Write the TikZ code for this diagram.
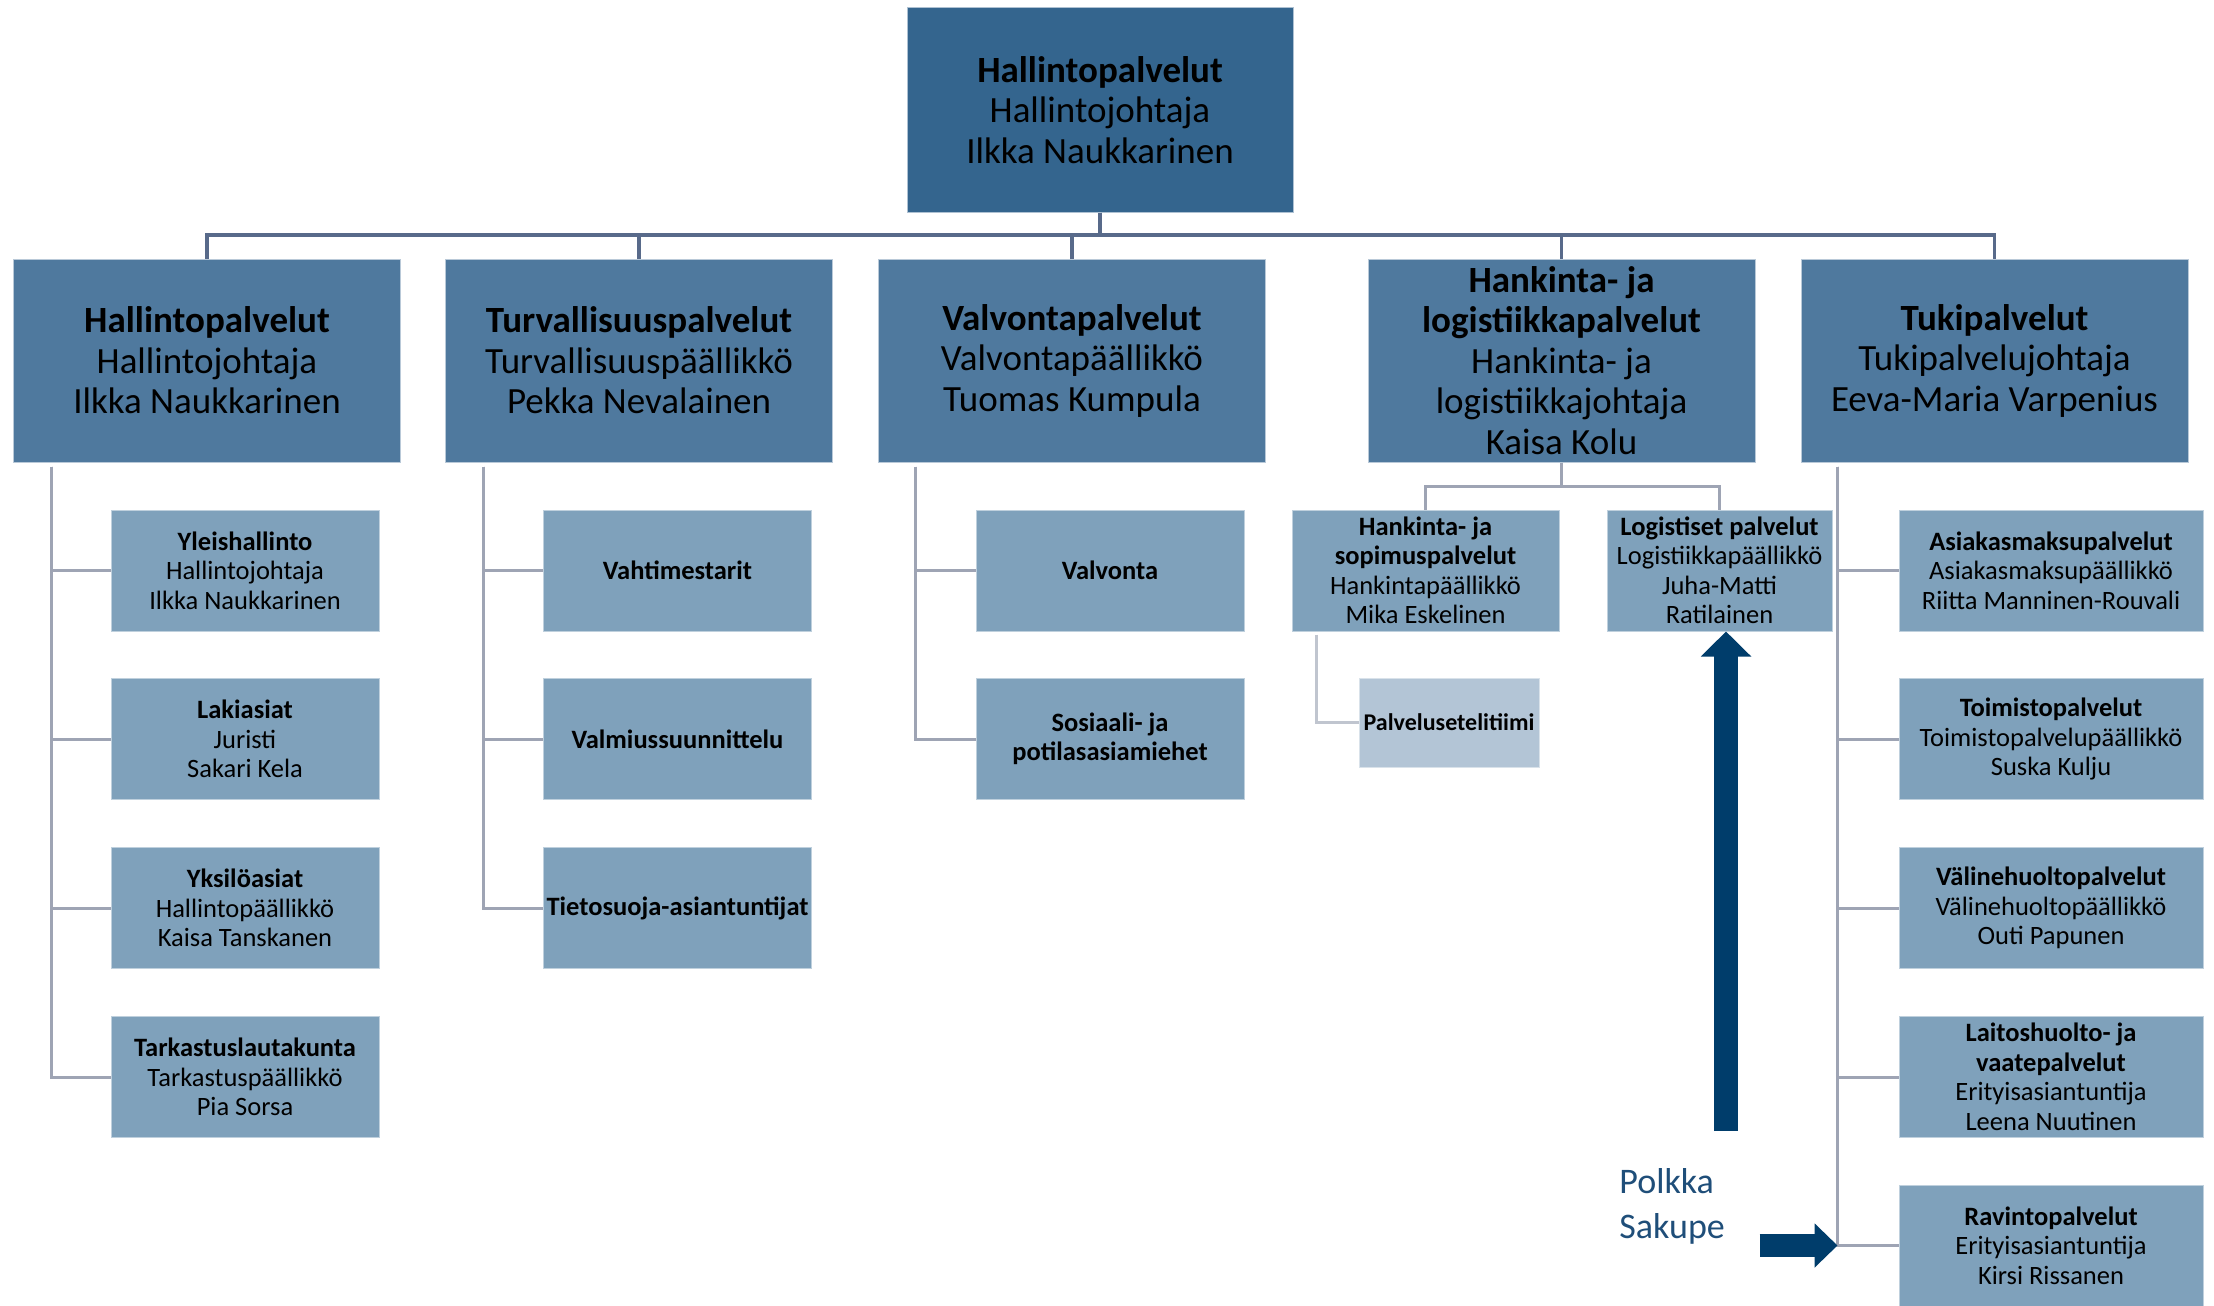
\documentclass[tikz,border=0pt]{standalone}
\usepackage{fontspec}
\setmainfont{Carlito}
\usetikzlibrary{arrows.meta,calc}

\definecolor{topblue}{RGB}{52,101,142}
\definecolor{unitblue}{RGB}{79,121,158}
\definecolor{teamblue}{RGB}{127,161,187}
\definecolor{paleblue}{RGB}{179,197,214}
\definecolor{busgray}{RGB}{88,106,138}
\definecolor{linegray}{RGB}{158,164,180}
\definecolor{palegray}{RGB}{192,197,207}
\definecolor{navy}{RGB}{0,61,107}
\definecolor{polkkablue}{RGB}{31,78,121}

\begin{document}
\begin{tikzpicture}[x=0.5pt,y=-0.5pt]
	\tikzstyle{topbox} = [rectangle, fill=topblue, draw=white!60!topblue, line width=0.5pt, inner sep=0pt, align=center, minimum width=193pt, minimum height=102.5pt, font=\fontsize{18.5}{20.25}\selectfont];
	\tikzstyle{unitbox} = [topbox, fill=unitblue, draw=white!60!unitblue, minimum width=193.5pt, minimum height=101.5pt];
	\tikzstyle{teambox} = [rectangle, fill=teamblue, draw=white!50!teamblue, line width=0.5pt, inner sep=0pt, align=center, minimum width=134pt, minimum height=60.5pt, font=\fontsize{13.25}{14.75}\selectfont];
	\tikzstyle{supportbox} = [teambox, minimum width=152pt];
	\tikzstyle{palebox} = [teambox, fill=paleblue, draw=white!50!paleblue, minimum width=90pt, minimum height=44.5pt, font=\fontsize{12}{14}\selectfont];
	\tikzstyle{busline} = [draw=busgray, line width=1.75pt];
	\tikzstyle{subline} = [draw=linegray, line width=1.5pt];
	\tikzstyle{paleline} = [draw=palegray, line width=1.5pt];
	\tikzstyle{uparrow} = [draw=navy, line width=12pt, -{Triangle[length=12.5pt,width=24.5pt]}];
	\tikzstyle{sidearrow} = [draw=navy, line width=11.5pt, -{Triangle[length=11.5pt,width=21.5pt]}];
	\tikzstyle{polkka} = [text=polkkablue, inner sep=0pt, align=left, font=\fontsize{18}{22.5}\selectfont];

	\useasboundingbox (0,0) rectangle (2214,1305);

	\node[topbox] at (1100, 110) (top) {\textbf{Hallintopalvelut}\\Hallintojohtaja\\Ilkka Naukkarinen};

	\node[unitbox] at (207, 360.5) (hal) {\textbf{Hallintopalvelut}\\Hallintojohtaja\\Ilkka Naukkarinen};
	\node[unitbox] at (639, 360.5) (tur) {\textbf{Turvallisuuspalvelut}\\Turvallisuuspäällikkö\\Pekka Nevalainen};
	\node[unitbox] at (1072, 360.5) (val) {\textbf{Valvontapalvelut}\\Valvontapäällikkö\\Tuomas Kumpula};
	\node[unitbox] at (1561.5, 360.5) (han) {\textbf{Hankinta- ja}\\\textbf{logistiikkapalvelut}\\Hankinta- ja\\logistiikkajohtaja\\Kaisa Kolu};
	\node[unitbox] at (1994.5, 360.5) (tuk) {\textbf{Tukipalvelut}\\Tukipalvelujohtaja\\Eeva-Maria Varpenius};

		\node[teambox] at (245, 570.5) (yle) {\textbf{Yleishallinto}\\Hallintojohtaja\\Ilkka Naukkarinen};
		\node[teambox] at (245, 739) (lak) {\textbf{Lakiasiat}\\Juristi\\Sakari Kela};
		\node[teambox] at (245, 908) (yks) {\textbf{Yksilöasiat}\\Hallintopäällikkö\\Kaisa Tanskanen};
		\node[teambox] at (245, 1077) (tar) {\textbf{Tarkastuslautakunta}\\Tarkastuspäällikkö\\Pia Sorsa};

		\node[teambox] at (677.5, 570.5) (vah) {\textbf{Vahtimestarit}};
		\node[teambox] at (677.5, 739) (vmu) {\textbf{Valmiussuunnittelu}};
		\node[teambox] at (677.5, 908) (tie) {\textbf{Tietosuoja-asiantuntijat}};

		\node[teambox] at (1110, 570.5) (vlv) {\textbf{Valvonta}};
		\node[teambox] at (1110, 739) (sos) {\textbf{Sosiaali- ja}\\\textbf{potilasasiamiehet}};

		\node[teambox, minimum width=133.5pt] at (1425.5, 570.5) (hso) {\textbf{Hankinta- ja}\\\textbf{sopimuspalvelut}\\Hankintapäällikkö\\Mika Eskelinen};
		\node[teambox, minimum width=112.5pt] at (1719.5, 570.5) (log) {\textbf{Logistiset palvelut}\\Logistiikkapäällikkö\\Juha-Matti\\Ratilainen};
			\node[palebox] at (1449, 722.5) (pst) {\textbf{Palvelusetelitiimi}};

		\node[supportbox] at (2051, 570.5) (asi) {\textbf{Asiakasmaksupalvelut}\\Asiakasmaksupäällikkö\\Riitta Manninen-Rouvali};
		\node[supportbox] at (2051, 739) (toi) {\textbf{Toimistopalvelut}\\Toimistopalvelupäällikkö\\Suska Kulju};
		\node[supportbox] at (2051, 908) (vhu) {\textbf{Välinehuoltopalvelut}\\Välinehuoltopäällikkö\\Outi Papunen};
		\node[supportbox] at (2051, 1077) (lai) {\textbf{Laitoshuolto- ja}\\\textbf{vaatepalvelut}\\Erityisasiantuntija\\Leena Nuutinen};
		\node[supportbox] at (2051, 1245.5) (rav) {\textbf{Ravintopalvelut}\\Erityisasiantuntija\\Kirsi Rissanen};

	\coordinate (bus) at (0, 235);
	\foreach \u in {hal,tur,val,han,tuk}
		\draw[busline] (top.south) |- (\u.north |- bus) -- (\u.north);

	\foreach \t in {yle,lak,yks,tar}
		\draw[subline] ($(hal.south west)+(38,4)$) |- (\t.west);
	\foreach \t in {vah,vmu,tie}
		\draw[subline] ($(tur.south west)+(38,4)$) |- (\t.west);
	\foreach \t in {vlv,sos}
		\draw[subline] ($(val.south west)+(37,4)$) |- (\t.west);
	\foreach \t in {asi,toi,vhu,lai,rav}
		\draw[subline] ($(tuk.south west)+(37,4)$) |- (\t.west);

	\draw[subline] (han.south) -- ++(0,24) -| (hso.north);
	\draw[subline] (han.south) -- ++(0,24) -| (log.north);
	\draw[paleline] ($(hso.south west)+(25,3)$) |- (pst.west);

	\coordinate (upfoot) at (1726, 1131);
	\draw[uparrow] (upfoot) -- (upfoot |- log.south);

	\coordinate (tukbar) at ($(tuk.south west)+(37,0)$);
	\coordinate (sidefoot) at ($(tukbar |- rav.west)+(-78,0)$);
	\draw[sidearrow] (sidefoot) -- (tukbar |- rav.west);

	\node[polkka, anchor=west] at (1619, 1206) (polk) {Polkka\\Sakupe};

\end{tikzpicture}
\end{document}
